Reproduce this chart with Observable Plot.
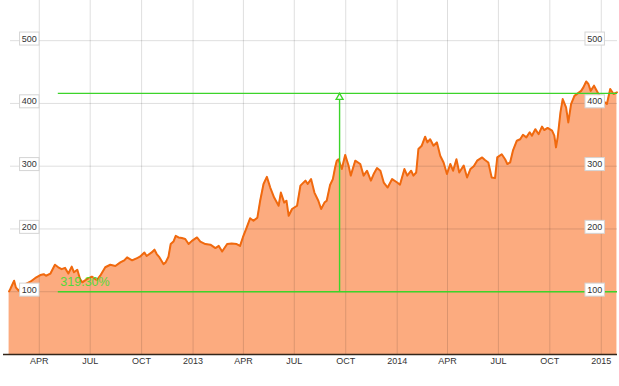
<!DOCTYPE html>
<html><head><meta charset="utf-8">
<script src="https://cdn.jsdelivr.net/npm/d3@7"></script>
<script src="https://cdn.jsdelivr.net/npm/@observablehq/plot@0.6"></script>
<style>body{margin:0;background:#fff;font-family:"Liberation Sans",Arial,sans-serif}</style>
</head><body><div id="chart"></div><script>
const dates = [
"2012-02-07","2012-02-09","2012-02-16","2012-02-19","2012-02-24","2012-03-01","2012-03-09","2012-03-16","2012-03-19","2012-03-25",
"2012-04-03","2012-04-09","2012-04-13","2012-04-21","2012-04-29","2012-05-05","2012-05-11","2012-05-17","2012-05-23","2012-05-29",
"2012-06-02","2012-06-08","2012-06-13","2012-06-17","2012-06-25","2012-07-04","2012-07-13","2012-07-19","2012-07-28","2012-08-06",
"2012-08-15","2012-08-24","2012-08-31","2012-09-05","2012-09-14","2012-09-23","2012-09-28","2012-10-06","2012-10-10","2012-10-19",
"2012-10-24","2012-10-28","2012-11-02","2012-11-09","2012-11-13","2012-11-18","2012-11-22","2012-11-27","2012-12-01","2012-12-06",
"2012-12-12","2012-12-18","2012-12-24","2012-12-30","2013-01-08","2013-01-14","2013-01-23","2013-02-01","2013-02-10","2013-02-16",
"2013-02-22","2013-03-03","2013-03-11","2013-03-20","2013-03-26","2013-03-31","2013-04-07","2013-04-13","2013-04-19","2013-04-26",
"2013-05-01","2013-05-07","2013-05-13","2013-05-19","2013-05-26","2013-06-03","2013-06-07","2013-06-13","2013-06-17","2013-06-21",
"2013-06-27","2013-07-06","2013-07-12","2013-07-21","2013-07-25","2013-07-31","2013-08-06","2013-08-13","2013-08-18","2013-08-24",
"2013-08-28","2013-09-03","2013-09-08","2013-09-12","2013-09-15","2013-09-18","2013-09-21","2013-09-24","2013-09-30","2013-10-06",
"2013-10-10","2013-10-18","2013-10-27","2013-11-02","2013-11-08","2013-11-15","2013-11-20","2013-11-26","2013-12-02","2013-12-08",
"2013-12-15","2013-12-23","2014-01-01","2014-01-06","2014-01-14","2014-01-19","2014-01-26","2014-01-30","2014-02-04","2014-02-08",
"2014-02-14","2014-02-20","2014-02-24","2014-03-01","2014-03-07","2014-03-13","2014-03-19","2014-03-25","2014-03-31","2014-04-06",
"2014-04-11","2014-04-17","2014-04-22","2014-04-30","2014-05-06","2014-05-12","2014-05-18","2014-05-24","2014-06-02","2014-06-07",
"2014-06-13","2014-06-19","2014-06-25","2014-06-29","2014-07-07","2014-07-13","2014-07-17","2014-07-22","2014-07-27","2014-08-03",
"2014-08-09","2014-08-14","2014-08-20","2014-08-26","2014-08-30","2014-09-05","2014-09-11","2014-09-17","2014-09-21","2014-09-27",
"2014-10-05","2014-10-09","2014-10-12","2014-10-15","2014-10-20","2014-10-24","2014-10-30","2014-11-03","2014-11-08","2014-11-14",
"2014-11-20","2014-11-26","2014-11-30","2014-12-05","2014-12-09","2014-12-13","2014-12-19","2014-12-27","2015-01-03","2015-01-11",
"2015-01-17","2015-01-23","2015-01-29"];
const values = [
100.5,104,117.5,107,101.6,108,113,116,118,122,
126.6,128,125.5,129,143,139,136,138,129,140,
131,135,120,115,120,124,118.6,125.5,139,143,
141,146.8,150,154.7,150,153.6,155.8,162.6,157,162.6,
167,160,154.7,144,146.8,155.8,176,180,189,186.5,
185.5,184,176,181,186.5,180,176,175,169.6,173,
164,176,177,176,173,186.5,202.5,217,213,218,
245,271.6,283,266,250,237,258,242,245,221,
231.8,237,269,277,271.6,279.5,258,245,231.8,242,
245,270,279.5,298,308.8,311,303.5,295.5,318,301,
285,308.8,303.5,285,292.8,277,287.5,297,292.8,274,
266,279.5,274,270.5,295.5,285,292.8,285,290,327.4,
332.7,347,338,343,332.7,338,316.7,306,287.5,303.5,
292.8,311,290,301,282,295.5,300,308.8,314,310,
306,282,281,314,319,311,303.5,306,324.7,340.6,
343,350,346,354,348.6,359,351,363,357.6,361,
356.6,348.6,330,346,385.7,407,393.7,369.8,399,412,
416,420,425.6,435,431,420,428.3,415,405,399,
423,415,417.6];
const yTicks = [100, 200, 300, 400, 500];
const xTicks = ["2012-04-01","2012-07-01","2012-10-01","2013-01-01","2013-04-01","2013-07-01","2013-10-01","2014-01-01","2014-04-01","2014-07-01","2014-10-01","2015-01-01"];
const xTickLabels = ["APR","JUL","OCT","2013","APR","JUL","OCT","2014","APR","JUL","OCT","2015"];
const xDomain = ["2012-01-28","2015-01-30"];
const yDomain = [0, 564];
const annoStart = "2012-05-05";
const annoDate = "2013-09-20";
const annoLow = 100;
const annoHigh = 416;
const annoLabel = "319.30%";

const P = s => new Date(s + "T00:00:00Z");
const data = dates.map((d, i) => ({date: P(d), value: values[i]}));
const tickDates = xTicks.map(P);
const labelMap = new Map(tickDates.map((d, i) => [+d, xTickLabels[i]]));
const dom = xDomain.map(P);
const green = "#3cd42a";

const hLines = [annoLow, annoHigh].map(v => ({y: v, x1: P(annoStart), x2: dom[1]}));
const vLine = [{x: P(annoDate), y1: annoLow, y2: annoHigh}];
const arrow = [{x: P(annoDate), y: annoHigh}];
const label = [{x: P(annoStart), y: annoLow, t: annoLabel}];

const chart = Plot.plot({
  width: 619, height: 386,
  marginLeft: 3, marginRight: 2, marginTop: 0, marginBottom: 32,
  style: {fontFamily: '"Liberation Sans", Arial, sans-serif', background: "#fff"},
  x: {type: "utc", domain: dom, axis: null},
  y: {domain: yDomain, axis: null},
  marks: [
    Plot.areaY(data, {x: "date", y: "value", fill: "#fcab7f"}),
    Plot.ruleY(yTicks, {stroke: "#000", strokeOpacity: 0.13, insetLeft: 7}),
    Plot.ruleX(tickDates, {stroke: "#000", strokeOpacity: 0.13}),
    Plot.lineY(data, {x: "date", y: "value", stroke: "#f0690e", strokeWidth: 2}),
    Plot.ruleY([0], {stroke: "#33261a", strokeWidth: 1.5}),
    Plot.ruleY(hLines, {y: "y", x1: "x1", x2: "x2", stroke: green, strokeWidth: 1.4}),
    Plot.ruleX(vLine, {x: "x", y1: "y1", y2: "y2", stroke: green, strokeWidth: 1.4}),
    Plot.dot(arrow, {x: "x", y: "y", symbol: "triangle", r: 2.6, dy: 4, stroke: green, fill: "#fff", strokeWidth: 1.3}),
    Plot.text(label, {x: "x", y: "y", text: "t", textAnchor: "start", lineAnchor: "middle", dx: 2, dy: -10, fill: "#55d83a", fontSize: 12.5}),
    Plot.text(yTicks, {y: d => d, text: d => String(d), frameAnchor: "left", dx: 25.8, dy: -2, textAnchor: "middle", lineAnchor: "middle", fontSize: 9, fill: "#333", ariaDescription: "ylab"}),
    Plot.text(yTicks, {y: d => d, text: d => String(d), frameAnchor: "right", dx: -22.8, dy: -2, textAnchor: "middle", lineAnchor: "middle", fontSize: 9, fill: "#333", ariaDescription: "ylab"}),
    Plot.axisX(tickDates, {tickSize: 0, tickPadding: 3, fontSize: 9, fill: "#333", tickFormat: d => labelMap.get(+d)})
  ]
});
document.getElementById("chart").appendChild(chart);

// white boxes behind the y tick labels
chart.querySelectorAll('g[aria-description="ylab"] text').forEach(t => {
  const b = t.getBBox();
  const r = document.createElementNS("http://www.w3.org/2000/svg", "rect");
  r.setAttribute("x", b.x - 2.2);
  r.setAttribute("y", b.y + b.height / 2 - 6.5);
  r.setAttribute("width", b.width + 4.4);
  r.setAttribute("height", 13);
  r.setAttribute("fill", "#fff");
  r.setAttribute("stroke", "#d4d4d4");
  r.setAttribute("stroke-width", "1");
  const tr = t.getAttribute("transform");
  if (tr) r.setAttribute("transform", tr);
  t.parentNode.insertBefore(r, t);
});
</script></body></html>
